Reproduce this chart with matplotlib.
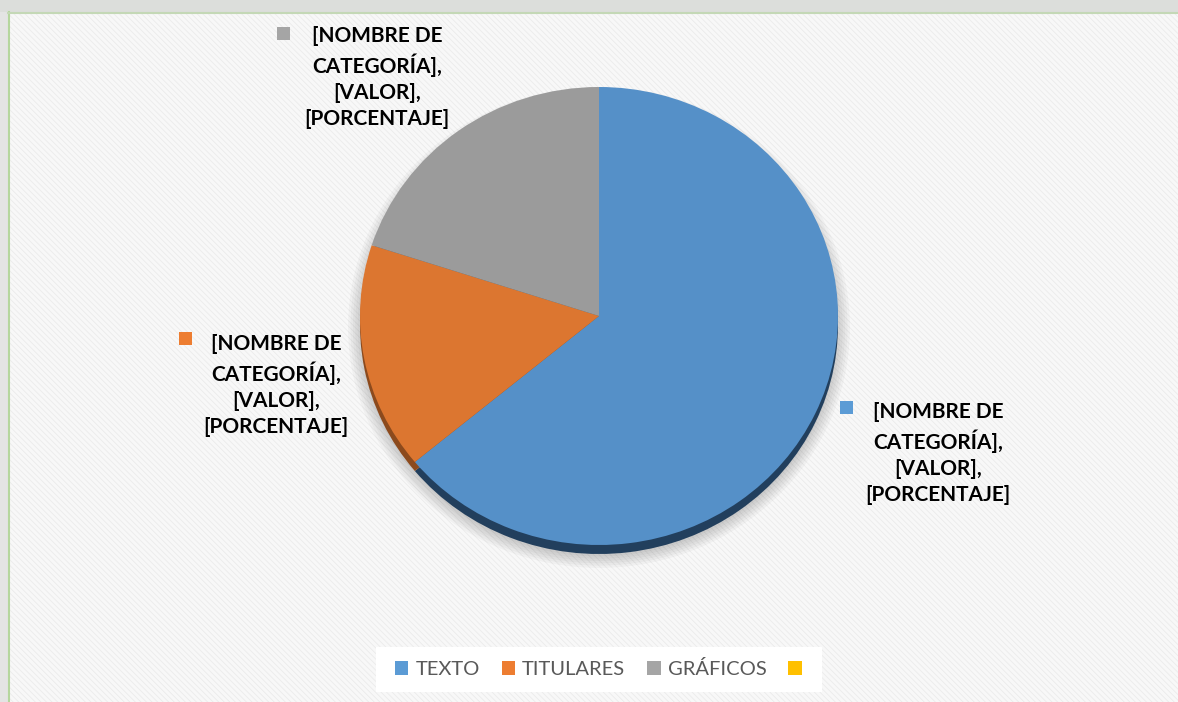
#!/usr/bin/env python3
"""
Pie chart of content distribution (texto / titulares / gráficos)
"""

import matplotlib
matplotlib.use('Agg')
import matplotlib.pyplot as plt
from matplotlib.patches import Rectangle, Patch, Ellipse

# Data
categories = ['TEXTO', 'TITULARES', 'GRÁFICOS', '']
values = [64, 16, 20, 0]
label_text = '[NOMBRE DE\nCATEGORÍA],\n[VALOR],\n[PORCENTAJE]'

face_colors = ['#5590C8', '#DC7630', '#9B9B9B', '#F2B800']
depth_colors = ['#223F5D', '#8C4A1D', '#5E5E5E', '#8A6A00']
key_colors = ['#5B9BD5', '#ED7D31', '#A5A5A5', '#FFC000']

W, H = 1178, 702
DPI = 100

# pie geometry in pixels (y measured from top)
PIE_CX, PIE_CY = 599, 316
PIE_RX, PIE_RY = 239, 229
DEPTH = 9
LIM = 1.3

# data label layout: key square (x, y), text centre x and baseline of last line
label_layout = [
    (840, 401, 938, 501),
    (179, 332, 276, 433),
    (277, 27, 377, 125),
]

plt.rcParams['font.family'] = ['Lato', 'DejaVu Sans']
plt.rcParams['hatch.linewidth'] = 0.6


def draw_background(fig):
    """Background axes in pixel coordinates"""
    bg = fig.add_axes([0, 0, 1, 1])
    bg.set_xlim(0, W)
    bg.set_ylim(H, 0)
    bg.axis('off')

    # outer area (slide behind the chart)
    bg.add_patch(Rectangle((0, 0), W, H, facecolor='#DCDEDB', linewidth=0))
    bg.add_patch(Rectangle((0, 12), 8, H, facecolor='#E4E4E4', linewidth=0))

    # chart area with fine diagonal texture
    bg.add_patch(Rectangle((9, 13), W, H, facecolor='#F8F8F8',
                           edgecolor='#EBEBEB', hatch='\\\\\\\\\\\\', linewidth=0))
    bg.plot([8.5, 8.5], [12, H], color='#B5D69E', linewidth=1.5)
    bg.plot([8, W], [12.5, 12.5], color='#C4D8B6', linewidth=1.5)

    # legend box
    bg.add_patch(Rectangle((376, 647), 446, 45, facecolor='white', linewidth=0))
    return bg


def draw_pie(fig):
    """Pie with a dark lower edge to fake the 3D bevel"""
    w_px = 2 * LIM * PIE_RX
    h_px = 2 * LIM * PIE_RY
    left = (PIE_CX - w_px / 2) / W
    bottom = (H - PIE_CY - h_px / 2) / H
    ax = fig.add_axes([left, bottom, w_px / W, h_px / H])

    # soft drop shadow
    for k in range(6):
        grow = 0.01 * k
        ax.add_patch(Ellipse((0.0, -0.05), 2 * (1 + grow), 2 * (1 + grow),
                             facecolor='black', alpha=0.03, linewidth=0))

    depth = DEPTH / PIE_RY
    ax.pie(values, colors=depth_colors, startangle=90, counterclock=False,
           center=(0, -depth), radius=1, wedgeprops=dict(linewidth=0))
    ax.pie(values, colors=face_colors, startangle=90, counterclock=False,
           center=(0, 0), radius=1, wedgeprops=dict(linewidth=0))

    ax.set_aspect('auto')
    ax.set_xlim(-LIM, LIM)
    ax.set_ylim(-LIM, LIM)
    ax.axis('off')
    return ax


def draw_labels(bg):
    """Data labels with their colour keys"""
    for i, (kx, ky, tx, ty) in enumerate(label_layout):
        bg.add_patch(Rectangle((kx, ky), 13, 13, facecolor=key_colors[i], linewidth=0))
        bg.text(tx, ty, label_text, ha='center', va='baseline', fontsize=15,
                fontweight='bold', color='#000000', linespacing=1.37)


def draw_legend(fig):
    handles = [Patch(facecolor=c, edgecolor='none') for c in key_colors]
    fig.legend(handles, categories, loc='center', ncol=4,
               bbox_to_anchor=(602 / W, 1 - 669 / H), frameon=False,
               fontsize=14.5, labelcolor='#595959',
               handlelength=0.65, handleheight=0.65, handletextpad=0.35,
               columnspacing=1.1)


def main():
    fig = plt.figure(figsize=(W / DPI, H / DPI), dpi=DPI)
    bg = draw_background(fig)
    draw_pie(fig)
    draw_labels(bg)
    draw_legend(fig)
    fig.savefig('out.png', dpi=DPI)
    plt.close(fig)


if __name__ == '__main__':
    main()
